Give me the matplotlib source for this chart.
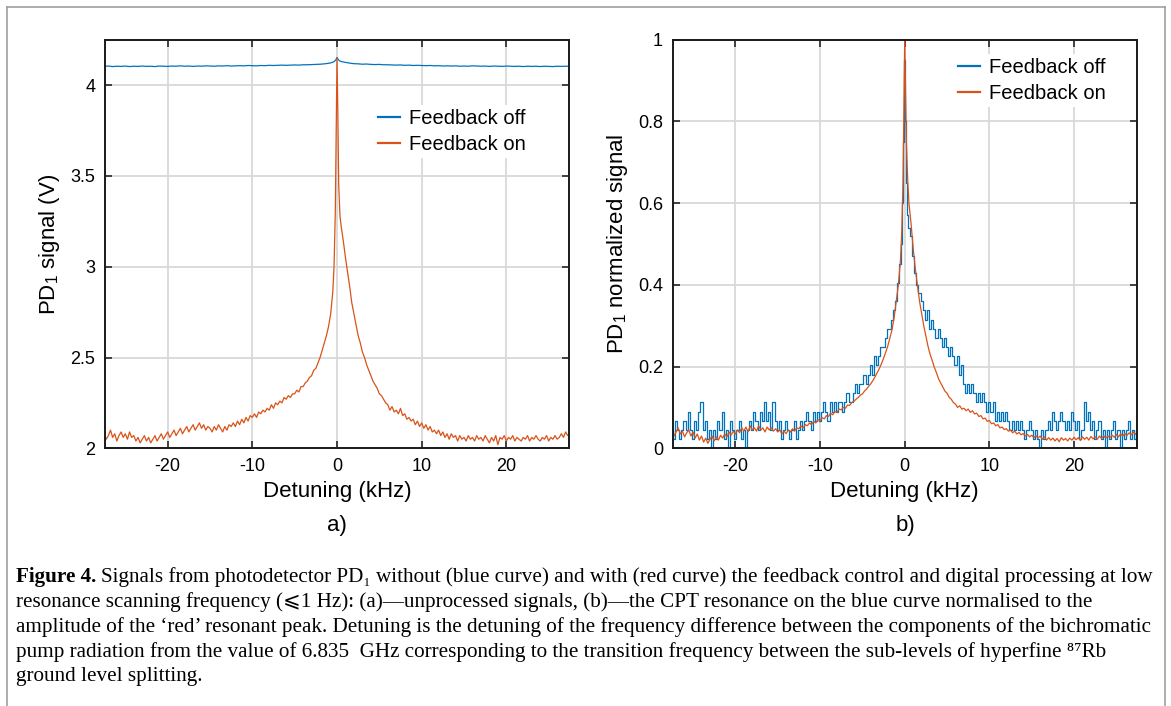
import numpy as np
import matplotlib
matplotlib.use('Agg')
import matplotlib.pyplot as plt
from matplotlib.lines import Line2D

plt.rcParams['font.family'] = ['Liberation Sans', 'DejaVu Sans']
plt.rcParams['mathtext.fontset'] = 'custom'
plt.rcParams['mathtext.rm'] = 'Liberation Sans'

# Detuning grids (kHz): tails + dense points around the resonance
coarse_center = [-1.5, -1.0, -0.7, -0.5, -0.3, -0.15, 0.0, 0.15, 0.3, 0.5, 0.7, 1.0, 1.5]
detuning_coarse = np.array(list(np.arange(-27.5, -1.9, 0.5)) + coarse_center
                           + list(np.arange(2.0, 27.6, 0.5)))
fine_center = [-1.75, -1.5, -1.25, -1.0, -0.75, -0.5, -0.35, -0.2, -0.1, 0.0,
               0.1, 0.2, 0.35, 0.5, 0.75, 1.0, 1.25, 1.5, 1.75]
detuning_fine = np.array(list(np.arange(-27.5, -1.9, 0.25)) + fine_center
                         + list(np.arange(2.0, 27.6, 0.25)))

# a) raw PD1 signal (V), feedback off (coarse grid)
a_off = [4.103, 4.105, 4.102, 4.104, 4.103, 4.105, 4.102, 4.104, 4.103, 4.105,
         4.103, 4.104, 4.102, 4.105, 4.104, 4.103, 4.105, 4.104, 4.106, 4.104,
         4.105, 4.103, 4.105, 4.104, 4.106, 4.105, 4.104, 4.106, 4.105, 4.107,
         4.105, 4.106, 4.107, 4.106, 4.108, 4.107, 4.106, 4.108, 4.107, 4.109,
         4.108, 4.109, 4.110, 4.109, 4.110, 4.111, 4.110, 4.112, 4.112, 4.113,
         4.114, 4.115,
         4.117, 4.120, 4.123, 4.126, 4.131, 4.138, 4.152, 4.140, 4.134, 4.130, 4.128, 4.125, 4.121,
         4.118, 4.117, 4.115, 4.116, 4.114, 4.113, 4.114, 4.112, 4.112, 4.111,
         4.110, 4.111, 4.109, 4.110, 4.108, 4.109, 4.108, 4.107, 4.108, 4.106,
         4.107, 4.105, 4.106, 4.105, 4.106, 4.104, 4.105, 4.104, 4.106, 4.105,
         4.104, 4.105, 4.103, 4.105, 4.104, 4.103, 4.105, 4.104, 4.103, 4.104,
         4.102, 4.104, 4.103, 4.104, 4.102, 4.104, 4.103, 4.102, 4.104, 4.103,
         4.104, 4.103]

# a) raw PD1 signal (V), feedback on (fine grid)
a_on = [2.08, 2.05, 2.07, 2.10, 2.06, 2.08, 2.04, 2.07, 2.09, 2.06,
        2.08, 2.05, 2.09, 2.06, 2.07, 2.04, 2.06, 2.03, 2.05, 2.07,
        2.04, 2.06, 2.03, 2.05, 2.07, 2.04, 2.06, 2.08, 2.05, 2.07,
        2.09, 2.06, 2.08, 2.10, 2.07, 2.09, 2.11, 2.08, 2.10, 2.12,
        2.09, 2.11, 2.13, 2.10, 2.12, 2.14, 2.11, 2.13, 2.10, 2.12,
        2.11, 2.09, 2.12, 2.10, 2.13, 2.11, 2.09, 2.12, 2.10, 2.13,
        2.12, 2.14, 2.12, 2.15, 2.13, 2.16, 2.14, 2.17, 2.15, 2.18,
        2.17, 2.19, 2.17, 2.20, 2.19, 2.21, 2.20, 2.22, 2.21, 2.24,
        2.22, 2.25, 2.24, 2.26, 2.25, 2.28, 2.27, 2.29, 2.28, 2.30,
        2.30, 2.32, 2.31, 2.34, 2.34, 2.36, 2.37, 2.39, 2.40, 2.43,
        2.44, 2.47, 2.50,
        2.54, 2.58, 2.62, 2.67, 2.74, 2.86, 3.00, 3.30, 3.75, 4.15,
        3.85, 3.45, 3.28, 3.22, 3.14, 3.05, 2.97, 2.89, 2.80,
        2.74, 2.68, 2.62, 2.58, 2.53, 2.50, 2.46, 2.43, 2.40, 2.37,
        2.35, 2.33, 2.30, 2.29, 2.27, 2.25, 2.24, 2.21, 2.23, 2.20,
        2.21, 2.19, 2.22, 2.18, 2.19, 2.16, 2.17, 2.15, 2.16, 2.13,
        2.15, 2.12, 2.14, 2.11, 2.13, 2.10, 2.12, 2.09, 2.10, 2.08,
        2.10, 2.07, 2.09, 2.06, 2.08, 2.05, 2.08, 2.06, 2.07, 2.04,
        2.07, 2.05, 2.06, 2.04, 2.07, 2.05, 2.06, 2.04, 2.07, 2.05,
        2.06, 2.04, 2.07, 2.05, 2.03, 2.06, 2.04, 2.07, 2.02, 2.06,
        2.05, 2.07, 2.04, 2.06, 2.05, 2.07, 2.04, 2.06, 2.05, 2.04,
        2.06, 2.05, 2.07, 2.04, 2.06, 2.05, 2.07, 2.05, 2.04, 2.06,
        2.05, 2.07, 2.04, 2.06, 2.05, 2.07, 2.05, 2.06, 2.08, 2.06,
        2.09, 2.07, 2.08]

# b) normalized signal, feedback off (quantized levels)
b_off = [0.045, 0.023, 0.068, 0.045, 0.023, 0.045, 0.068, 0.045, 0.090, 0.045,
         0.023, 0.068, 0.045, 0.090, 0.113, 0.045, 0.068, 0.023, 0.045, 0.000,
         0.045, 0.023, 0.068, 0.045, 0.090, 0.023, 0.045, 0.000, 0.068, 0.045,
         0.023, 0.045, 0.068, 0.023, 0.045, 0.000, 0.045, 0.068, 0.045, 0.090,
         0.068, 0.045, 0.090, 0.068, 0.113, 0.068, 0.090, 0.045, 0.113, 0.068,
         0.045, 0.068, 0.023, 0.045, 0.068, 0.045, 0.023, 0.045, 0.068, 0.023,
         0.045, 0.068, 0.045, 0.068, 0.090, 0.068, 0.045, 0.090, 0.068, 0.090,
         0.068, 0.090, 0.113, 0.090, 0.068, 0.113, 0.090, 0.113, 0.090, 0.113,
         0.113, 0.090, 0.113, 0.135, 0.113, 0.113, 0.135, 0.158, 0.135, 0.158,
         0.158, 0.180, 0.158, 0.180, 0.203, 0.180, 0.225, 0.203, 0.225, 0.248,
         0.248, 0.270, 0.293,
         0.293, 0.315, 0.338, 0.360, 0.405, 0.450, 0.500, 0.600, 0.750, 0.950,
         0.800, 0.650, 0.570, 0.540, 0.520, 0.470, 0.430, 0.400, 0.380,
         0.360, 0.338, 0.315, 0.338, 0.293, 0.315, 0.293, 0.270, 0.293, 0.270,
         0.248, 0.270, 0.248, 0.225, 0.248, 0.225, 0.203, 0.225, 0.180, 0.203,
         0.158, 0.135, 0.158, 0.135, 0.158, 0.135, 0.113, 0.135, 0.113, 0.135,
         0.113, 0.090, 0.113, 0.090, 0.113, 0.068, 0.090, 0.068, 0.090, 0.068,
         0.090, 0.068, 0.045, 0.068, 0.045, 0.068, 0.045, 0.068, 0.045, 0.023,
         0.045, 0.068, 0.045, 0.023, 0.045, 0.023, 0.000, 0.045, 0.023, 0.045,
         0.068, 0.045, 0.090, 0.068, 0.045, 0.068, 0.090, 0.068, 0.045, 0.068,
         0.045, 0.090, 0.068, 0.045, 0.068, 0.023, 0.045, 0.113, 0.068, 0.090,
         0.045, 0.068, 0.023, 0.045, 0.068, 0.023, 0.045, 0.000, 0.045, 0.023,
         0.045, 0.068, 0.023, 0.045, 0.000, 0.045, 0.023, 0.045, 0.068, 0.023,
         0.045, 0.023, 0.045]

# b) normalized signal, feedback on
b_on = [0.045, 0.030, 0.040, 0.050, 0.035, 0.042, 0.028, 0.038, 0.045, 0.030,
        0.040, 0.025, 0.035, 0.020, 0.030, 0.015, 0.025, 0.012, 0.022, 0.030,
        0.018, 0.028, 0.020, 0.032, 0.025, 0.035, 0.028, 0.040, 0.032, 0.042,
        0.035, 0.045, 0.038, 0.050, 0.042, 0.052, 0.040, 0.055, 0.045, 0.050,
        0.042, 0.055, 0.045, 0.050, 0.040, 0.052, 0.045, 0.050, 0.042, 0.048,
        0.040, 0.045, 0.035, 0.042, 0.036, 0.045, 0.040, 0.048, 0.042, 0.050,
        0.048, 0.055, 0.050, 0.058, 0.055, 0.062, 0.058, 0.066, 0.062, 0.070,
        0.068, 0.075, 0.072, 0.080, 0.078, 0.086, 0.082, 0.090, 0.088, 0.096,
        0.094, 0.100, 0.098, 0.106, 0.105, 0.112, 0.115, 0.120, 0.124, 0.130,
        0.133, 0.140, 0.145, 0.152, 0.158, 0.166, 0.175, 0.185, 0.195, 0.207,
        0.220, 0.235, 0.250,
        0.27, 0.29, 0.32, 0.36, 0.40, 0.46, 0.53, 0.65, 0.82, 1.00,
        0.88, 0.75, 0.66, 0.60, 0.55, 0.49, 0.44, 0.40, 0.36,
        0.330, 0.300, 0.275, 0.250, 0.230, 0.215, 0.198, 0.185, 0.170, 0.160,
        0.150, 0.140, 0.135, 0.125, 0.120, 0.112, 0.108, 0.100, 0.104, 0.096,
        0.098, 0.092, 0.096, 0.088, 0.092, 0.084, 0.086, 0.078, 0.080, 0.072,
        0.074, 0.066, 0.068, 0.060, 0.062, 0.055, 0.058, 0.050, 0.052, 0.046,
        0.048, 0.042, 0.045, 0.038, 0.042, 0.035, 0.039, 0.033, 0.036, 0.030,
        0.034, 0.028, 0.032, 0.026, 0.031, 0.025, 0.030, 0.022, 0.028, 0.020,
        0.026, 0.020, 0.025, 0.018, 0.024, 0.016, 0.026, 0.020, 0.024, 0.018,
        0.025, 0.020, 0.027, 0.021, 0.026, 0.019, 0.028, 0.022, 0.027, 0.020,
        0.029, 0.023, 0.028, 0.022, 0.030, 0.024, 0.031, 0.025, 0.030, 0.026,
        0.032, 0.027, 0.034, 0.028, 0.035, 0.030, 0.036, 0.031, 0.038, 0.033,
        0.040, 0.034, 0.041]

blue = '#0072BD'
orange = '#D95319'
xticks = [-20, -10, 0, 10, 20]

fig = plt.figure(figsize=(11.71, 7.06), dpi=100)


def style_axes(ax):
    # MATLAB-like box, inward ticks on all sides, light grid
    ax.set_xlim(-27.4, 27.4)
    ax.set_xticks(xticks)
    ax.set_xticklabels(['-20', '-10', '0', '10', '20'])
    ax.tick_params(direction='in', top=True, right=True, length=5, width=1.2,
                   colors='#262626', labelsize=13, labelcolor='black', pad=7)
    ax.grid(True, color='#d9d9d9', linewidth=1.3)
    ax.set_axisbelow(True)
    for s in ax.spines.values():
        s.set_linewidth(1.4)
        s.set_color('#1a1a1a')
    ax.set_xlabel('Detuning (kHz)', fontsize=16, labelpad=4)


def add_legend(ax, anchor):
    leg = ax.legend(loc='upper left', bbox_to_anchor=anchor, fontsize=14.5, frameon=True,
                    edgecolor='none', facecolor='white', framealpha=1, handlelength=1.1,
                    handletextpad=0.45, labelspacing=0.35, borderpad=0.2)
    for ln in leg.get_lines():
        ln.set_linewidth(1.6)


# a)
ax1 = fig.add_axes([105 / 1171, 1 - 448.3 / 706, 464 / 1171, 408.6 / 706])
ax1.plot(detuning_coarse, a_off, color=blue, linewidth=0.9, label='Feedback off')
ax1.plot(detuning_fine, a_on, color=orange, linewidth=0.9, label='Feedback on')
style_axes(ax1)
ax1.set_ylim(2, 4.25)
ax1.set_yticks([2, 2.5, 3, 3.5, 4])
ax1.set_yticklabels(['2', '2.5', '3', '3.5', '4'])
ax1.set_ylabel(r'PD$_\mathregular{1}$ signal (V)', fontsize=16, labelpad=6)
add_legend(ax1, (0.558, 0.865))

# b)
ax2 = fig.add_axes([672.7 / 1171, 1 - 448.3 / 706, 464 / 1171, 408.6 / 706])
ax2.plot(detuning_fine, b_off, color=blue, linewidth=0.9, drawstyle='steps-mid', label='Feedback off')
ax2.plot(detuning_fine, b_on, color=orange, linewidth=0.9, label='Feedback on')
style_axes(ax2)
ax2.set_ylim(0, 1)
ax2.set_yticks([0, 0.2, 0.4, 0.6, 0.8, 1])
ax2.set_yticklabels(['0', '0.2', '0.4', '0.6', '0.8', '1'])
ax2.set_ylabel(r'PD$_\mathregular{1}$ normalized signal', fontsize=16, labelpad=6)
add_legend(ax2, (0.584, 0.99))

fig.text(337 / 1171, 1 - 525 / 706, 'a)', fontsize=16, ha='center', va='center')
fig.text(905 / 1171, 1 - 525 / 706, 'b)', fontsize=16, ha='center', va='center')

# grey frame around the figure panel
frame_kw = dict(color='#a0a0a0', linewidth=1.2, transform=None)
fig.add_artist(Line2D([7, 7], [0, 706 - 7], **frame_kw))
fig.add_artist(Line2D([7, 1165], [706 - 7, 706 - 7], **frame_kw))
fig.add_artist(Line2D([1165, 1165], [0, 706 - 7], **frame_kw))

# caption
serif = ['Liberation Serif', 'DejaVu Serif', 'DejaVu Sans']
cap_size = 15.2
lines = [
    'Signals from photodetector PD\u2081 without (blue curve) and with (red curve) the feedback control and digital processing at low',
    'resonance scanning frequency (\u2a7d1 Hz): (a)\u2014unprocessed signals, (b)\u2014the CPT resonance on the blue curve normalised to the',
    'amplitude of the \u2018red\u2019 resonant peak. Detuning is the detuning of the frequency difference between the components of the bichromatic',
    'pump radiation from the value of 6.835  GHz corresponding to the transition frequency between the sub-levels of hyperfine \u2078\u2077Rb',
    'ground level splitting.',
]
renderer = fig.canvas.get_renderer()
head = fig.text(16 / 1171, 1 - 577 / 706, 'Figure 4.', fontsize=cap_size, fontweight='bold',
                family=serif, va='center')
hw = head.get_window_extent(renderer).width
for i, line in enumerate(lines):
    x0 = 16 + (hw + 5 if i == 0 else 0)
    fig.text(x0 / 1171, 1 - (577 + 25 * i) / 706, line, fontsize=cap_size,
             family=serif, va='center')

fig.savefig('out.png', dpi=100)
